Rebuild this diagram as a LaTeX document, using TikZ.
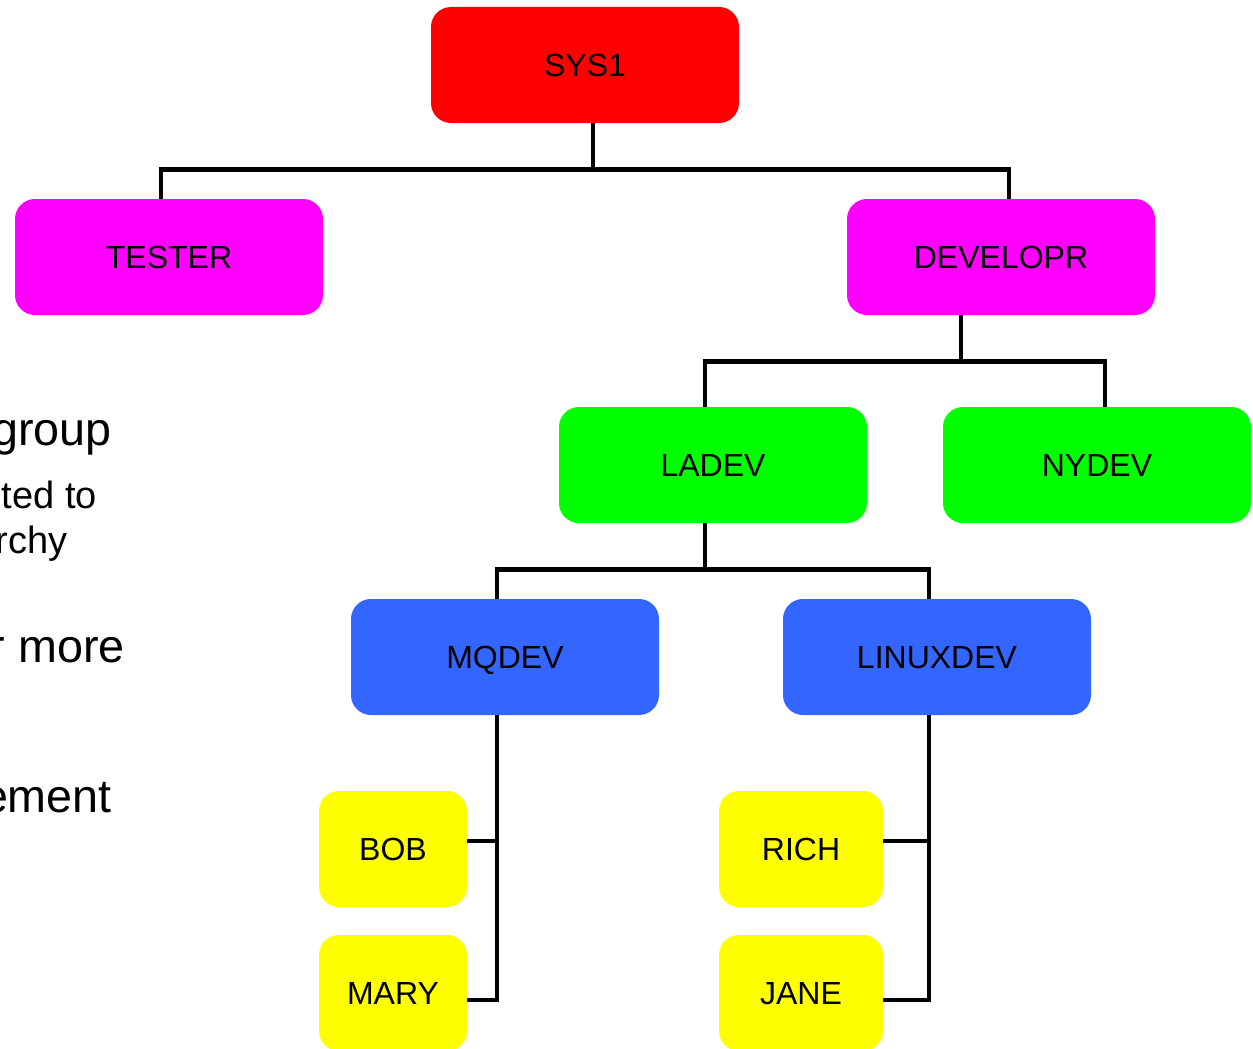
\documentclass[tikz,border=0pt]{standalone}
\usepackage{fontspec}
\setmainfont{Liberation Sans}
\usepackage{tikz}

\definecolor{sysred}{HTML}{FF0000}
\definecolor{grpmagenta}{HTML}{FF00FF}
\definecolor{grpgreen}{HTML}{00FF00}
\definecolor{grpblue}{HTML}{3366FF}
\definecolor{useryellow}{HTML}{FFFF00}

\begin{document}
\begin{tikzpicture}[x=0.75pt, y=-0.75pt,
        box/.style = {rectangle, rounded corners=15pt, minimum width=231pt,
            minimum height=87pt, inner sep=0pt, text height=17pt, text depth=0pt,
            font=\fontsize{24}{29}\selectfont},
        link/.style = {line width=3.5pt},
        bigtext/.style = {anchor=base east, inner sep=0pt, font=\fontsize{35}{42}\selectfont},
        smalltext/.style = {anchor=base east, inner sep=0pt, font=\fontsize{28.5}{34}\selectfont}]
            \clip (0,0) rectangle (1253,1049);

            % text cut off at the left edge
            \node (t1) [bigtext] at (112,445) {group};
            \node (t2) [smalltext] at (97,508) {ted to};
            \node (t3) [smalltext] at (68,553) {rchy};
            \node (t4) [bigtext] at (125,662) {r more};
            \node (t5) [bigtext] at (112,812) {ement};

            % groups
            \node (sys1) [box, fill=sysred] at (585,65) {SYS1};
            \node (tester) [box, fill=grpmagenta] at (169,257) {TESTER};
            \node (developr) [box, fill=grpmagenta] at (1001,257) {DEVELOPR};
            \node (ladev) [box, fill=grpgreen] at (713,465) {LADEV};
            \node (nydev) [box, fill=grpgreen] at (1097,465) {NYDEV};
            \node (mqdev) [box, fill=grpblue] at (505,657) {MQDEV};
            \node (linuxdev) [box, fill=grpblue] at (937,657) {LINUXDEV};

            % users
            \node (bob) [box, fill=useryellow, minimum width=111pt] at (393,849) {BOB};
            \node (mary) [box, fill=useryellow, minimum width=111pt] at (393,993) {MARY};
            \node (rich) [box, fill=useryellow, minimum width=123pt] at (801,849) {RICH};
            \node (jane) [box, fill=useryellow, minimum width=123pt] at (801,993) {JANE};

            \draw[link] ([xshift=6pt]sys1.south) -- ++(0,46) -| ([xshift=-6pt]tester.north);
            \draw[link] ([xshift=6pt]sys1.south) -- ++(0,46) -| ([xshift=6pt]developr.north);
            \draw[link] ([xshift=-30pt]developr.south) -- ++(0,46) -| ([xshift=-6pt]ladev.north);
            \draw[link] ([xshift=-30pt]developr.south) -- ++(0,46) -| ([xshift=6pt]nydev.north);
            \draw[link] ([xshift=-6pt]ladev.south) -- ++(0,46) -| ([xshift=-6pt]mqdev.north);
            \draw[link] ([xshift=-6pt]ladev.south) -- ++(0,46) -| ([xshift=-6pt]linuxdev.north);
            \draw[link] ([xshift=-6pt]mqdev.south) |- ([yshift=-5.25pt]mary.east);
            \draw[link] ([yshift=6pt]bob.east) -| ([xshift=-6pt]mqdev.south);
            \draw[link] ([xshift=-6pt]linuxdev.south) |- ([yshift=-5.25pt]jane.east);
            \draw[link] ([yshift=6pt]rich.east) -| ([xshift=-6pt]linuxdev.south);
        \end{tikzpicture}
\end{document}
